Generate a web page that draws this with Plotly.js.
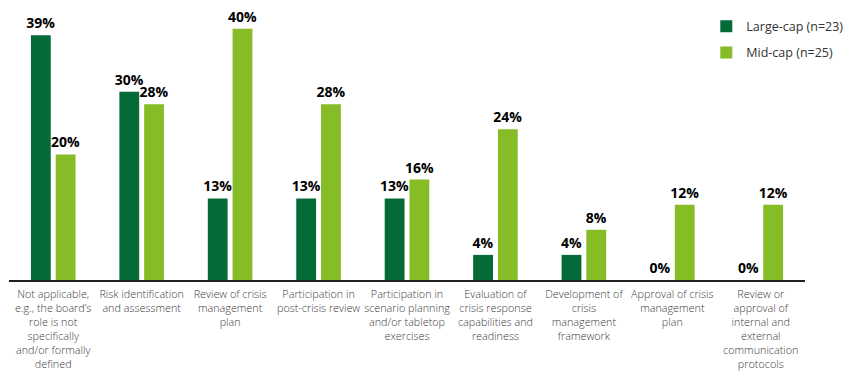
<!DOCTYPE html>
<html><head><meta charset="utf-8">
<script src="https://cdn.plot.ly/plotly-3.0.1.min.js"></script>
<style>html,body{margin:0;padding:0;background:#fff}#c{width:854px;height:375px}</style>
</head><body><div id="c"></div>
<script>
const categories = [
  "Not applicable,<br>e.g., the board’s<br>role is not<br>specifically<br>and/or formally<br>defined",
  "Risk identification<br>and assessment",
  "Review of crisis<br>management<br>plan",
  "Participation in<br>post-crisis review",
  "Participation in<br>scenario planning<br>and/or tabletop<br>exercises",
  "Evaluation of<br>crisis response<br>capabilities and<br>readiness",
  "Development of<br>crisis<br>management<br>framework",
  "Approval of crisis<br>management<br>plan",
  "Review or<br>approval of<br>internal and<br>external<br>communication<br>protocols"
];
const largeCap = [39, 30, 13, 13, 13, 4, 4, 0, 0];
const midCap = [20, 28, 40, 28, 16, 24, 8, 12, 12];
const seriesNames = ["Large-cap (n=23)", "Mid-cap (n=25)"];

const labelFont = {family: "Open Sans", size: 14, color: "#000", weight: 700};
function bar(y, name, color, grp) {
  return {
    type: "bar", x: categories, y: y, name: name, legendgroup: grp,
    marker: {color: color},
    texttemplate: "%{y}%", textposition: "outside", constraintext: "none",
    textfont: labelFont, cliponaxis: false, hoverinfo: "skip"
  };
}
const data = [bar(largeCap, seriesNames[0], "#046A38", "a"), bar(midCap, seriesNames[1], "#86BC25", "b")];
const layout = {
  width: 854, height: 375,
  margin: {l: 9, r: 41, t: 5, b: 95},
  paper_bgcolor: "#fff", plot_bgcolor: "#fff",
  barmode: "group", bargap: 0.44, bargroupgap: 0.2,
  showlegend: true,
  legend: {x: 0.876, y: 0.976, xanchor: "left", yanchor: "top",
    traceorder: "grouped", tracegroupgap: 7,
    font: {family: "Open Sans", size: 12.5, color: "#333"},
    itemwidth: 30, bgcolor: "rgba(0,0,0,0)"},
  xaxis: {
    showline: true, linecolor: "#231f20", linewidth: 2,
    ticks: "", tickangle: 0, automargin: false, ticklabelstandoff: 3,
    tickfont: {family: "Open Sans", size: 10.8, color: "#3c3c3c", weight: 300},
    showgrid: false, zeroline: false, fixedrange: true
  },
  yaxis: {range: [0, 43.8], visible: false, showgrid: false, zeroline: false, fixedrange: true},
  font: {family: "Open Sans"}
};
Plotly.newPlot("c", data, layout, {displayModeBar: false, staticPlot: true});
</script></body></html>
